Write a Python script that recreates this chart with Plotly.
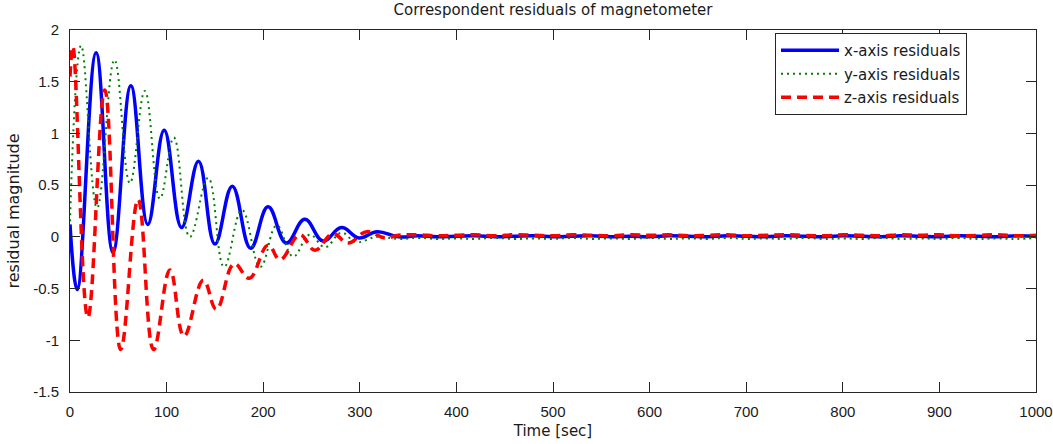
import plotly.graph_objects as go

# ---------------- data ----------------
tail_t = [340, 360, 380, 400, 420, 440, 460, 480, 500, 520, 540, 560, 580, 600,
          620, 640, 660, 680, 700, 720, 740, 760, 780, 800, 820, 840, 860, 880,
          900, 920, 940, 960, 980, 1000]

x_t = [0, 7.5, 27, 44.5, 63, 80.5, 97.5, 115.5, 133, 150, 168, 187, 205, 224,
       243, 262, 281, 299, 318] + tail_t
x_res = [0.12, -0.51, 1.78, -0.15, 1.46, 0.12, 1.03, 0.09, 0.73, -0.07, 0.49,
         -0.11, 0.29, -0.06, 0.17, -0.04, 0.09, -0.01, 0.05] + \
        [0.0, 0.01, 0.0, 0.005, 0.01, 0.0, 0.005, 0.01, 0.0, 0.005, 0.01, 0.0,
         0.005, 0.0, 0.01, 0.005, 0.0, 0.01, 0.005, 0.0, 0.01, 0.005, 0.0, 0.01,
         0.005, 0.0, 0.01, 0.005, 0.0, 0.01, 0.005, 0.0, 0.01, 0.005]

y_t = [0, 11.5, 28, 46, 62, 77.5, 93, 107.5, 124, 143, 159.5, 178, 197, 214,
       231, 248, 264, 281, 296, 318] + tail_t
y_res = [0.15, 1.85, 0.28, 1.71, 0.52, 1.41, 0.37, 0.96, 0.0, 0.57, -0.29, 0.26,
         -0.29, 0.11, -0.19, 0.02, -0.10, 0.04, -0.05, 0.0] + \
        [-0.02, -0.01, -0.02, -0.015, -0.02, -0.01, -0.02, -0.015, -0.02, -0.01,
         -0.02, -0.015, -0.02, -0.01, -0.02, -0.015, -0.02, -0.01, -0.02, -0.015,
         -0.02, -0.01, -0.02, -0.015, -0.02, -0.01, -0.02, -0.015, -0.02, -0.01,
         -0.02, -0.015, -0.02, -0.01]

z_t = [0, 3, 18.5, 36, 52.5, 70.5, 86.5, 103.5, 118, 138, 151.5, 170, 185.5,
       205, 217.5, 238, 253.5, 272, 288, 307, 326] + tail_t
z_res = [1.55, 1.84, -0.78, 1.42, -1.09, 0.36, -1.09, -0.32, -0.96, -0.42, -0.70,
         -0.26, -0.40, -0.08, -0.22, 0.02, -0.13, 0.03, -0.06, 0.05, -0.01] + \
        [0.015, 0.02, 0.01, 0.015, 0.02, 0.01, 0.02, 0.015, 0.01, 0.02, 0.015,
         0.01, 0.02, 0.015, 0.02, 0.01, 0.015, 0.02, 0.01, 0.015, 0.02, 0.015,
         0.01, 0.02, 0.015, 0.01, 0.02, 0.015, 0.02, 0.01, 0.015, 0.02, 0.01, 0.015]

x_ticks = [0, 100, 200, 300, 400, 500, 600, 700, 800, 900, 1000]
y_ticks = [-1.5, -1, -0.5, 0, 0.5, 1, 1.5, 2]
y_tick_text = ['-1.5', '-1', '-0.5', '0', '0.5', '1', '1.5', '2']

names = ['x-axis residuals', 'y-axis residuals', 'z-axis residuals']
title_text = 'Correspondent residuals of magnetometer'

# ---------------- figure ----------------
W, H = 1053, 444
AX = '#262626'
TXT = '#1a1a1a'
fig = go.Figure()
fig.add_trace(go.Scatter(x=x_t, y=x_res, mode='lines', name=names[0], legendgroup='a',
                         line=dict(color='#0000FF', width=3.5, shape='spline', smoothing=1.2)))
fig.add_trace(go.Scatter(x=y_t, y=y_res, mode='lines', name=names[1], legendgroup='b',
                         line=dict(color='#008000', width=2, dash='2px,4px', shape='spline', smoothing=1.2)))
fig.add_trace(go.Scatter(x=z_t, y=z_res, mode='lines', name=names[2], legendgroup='c',
                         line=dict(color='#FF0000', width=3.5, dash='10px,6px', shape='spline', smoothing=1.2)))

fig.update_layout(
    width=W, height=H,
    margin=dict(l=70, r=17, t=30, b=52, autoexpand=False),
    paper_bgcolor='white', plot_bgcolor='white',
    title=dict(text=title_text, x=553 / W, xanchor='center',
               y=1 - 10 / H, yref='container', yanchor='middle',
               pad=dict(t=0, b=0, l=0, r=0),
               font=dict(family='DejaVu Sans', size=15, color=TXT)),
    legend=dict(x=(967 - 70) / 966, xanchor='right', y=(392 - 33) / 362, yanchor='top',
                bgcolor='white', bordercolor=AX, borderwidth=1,
                font=dict(family='DejaVu Sans', size=15, color=TXT),
                itemwidth=58,
                tracegroupgap=1, traceorder='grouped'),
    showlegend=True,
)
fig.update_xaxes(range=[0, 1000], tickvals=x_ticks, ticktext=[str(v) for v in x_ticks],
                 showline=True, linecolor=AX, linewidth=1, mirror='ticks',
                 ticks='inside', ticklen=10, tickcolor=AX, showgrid=False, zeroline=False,
                 automargin=False,
                 tickfont=dict(family='Liberation Sans, Arial', size=15, color=TXT),
                 ticklabelstandoff=6,
                 title=dict(text='Time [sec]', standoff=6,
                            font=dict(family='DejaVu Sans', size=15, color=TXT)))
fig.update_yaxes(range=[-1.5, 2], tickvals=y_ticks, ticktext=y_tick_text,
                 showline=True, linecolor=AX, linewidth=1, mirror='ticks',
                 ticks='inside', ticklen=10, tickcolor=AX, showgrid=False, zeroline=False,
                 automargin=False,
                 tickfont=dict(family='Liberation Sans, Arial', size=15, color=TXT),
                 ticklabelstandoff=7,
                 title=dict(text='residual magnitude', standoff=9,
                            font=dict(family='DejaVu Sans', size=16, color=TXT)))

# remove the default 8px page margin so the figure fills the window exactly
fig.write_html('out.html', config={'displayModeBar': False},
               post_script="document.body.style.margin='0px';")
